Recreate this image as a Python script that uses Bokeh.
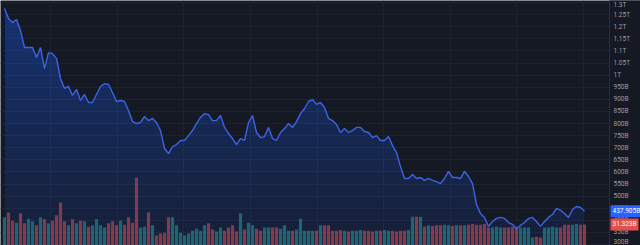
import numpy as np
from bokeh.plotting import figure
from bokeh.models import Range1d, FixedTicker, Grid, Label, ColumnDataSource, Span
from bokeh.embed import file_html
from bokeh.resources import INLINE

# ---- data (price in billions, volume in billions) ----
price = [
    1275, 1234, 1217, 1230, 1184, 1114, 1114, 1114, 1073, 1114,
    1027, 1093, 1089, 1069, 986, 945, 953, 916, 941, 895,
    920, 887, 887, 920, 953, 965, 961, 928, 891, 895,
    891, 854, 808, 800, 804, 829, 812, 821, 804, 771,
    697, 676, 705, 713, 730, 730, 750, 771, 800, 825,
    841, 837, 812, 812, 833, 784, 759, 738, 713, 738,
    730, 804, 833, 763, 742, 746, 784, 738, 730, 763,
    779, 800, 784, 808, 841, 862, 891, 899, 879, 887,
    866, 821, 812, 796, 763, 779, 763, 771, 784, 784,
    767, 763, 742, 750, 730, 730, 746, 709, 680, 622,
    573, 573, 589, 573, 577, 565, 573, 565, 560, 552,
    573, 602, 577, 577, 573, 602, 581, 552, 465, 428,
    412, 375, 395, 408, 412, 408, 391, 383, 366, 379,
    391, 408, 412, 395, 375, 395, 412, 424, 449, 441,
    428, 412, 445, 457, 453, 437.9,
]
volume = [
    42, 49, 37, 34, 48, 33, 40, 36, 30, 42,
    39, 33, 37, 45, 64, 36, 30, 39, 33, 37,
    36, 28, 30, 39, 30, 27, 33, 36, 30, 37,
    31, 42, 34, 101, 27, 28, 49, 30, 15, 18,
    19, 42, 42, 30, 19, 15, 18, 22, 25, 22,
    30, 33, 24, 21, 27, 22, 27, 30, 21, 48,
    24, 34, 30, 25, 22, 27, 27, 27, 27, 25,
    30, 22, 22, 24, 40, 22, 22, 22, 22, 30,
    30, 30, 22, 22, 23, 22, 21, 22, 22, 23,
    22, 22, 21, 22, 22, 23, 22, 22, 21, 22,
    22, 23, 43, 43, 43, 28, 30, 29, 30, 30,
    31, 30, 29, 30, 30, 30, 31, 32, 31, 31,
    32, 27, 27, 28, 27, 27, 27, 28, 27, 27,
    27, 27, 12, 13, 12, 27, 27, 28, 27, 27,
    31, 31, 31, 32, 31, 31.323,
]
tick_values = [300, 350, 400, 450, 500, 550, 600, 650, 700, 750, 800, 850,
               900, 950, 1000, 1050, 1100, 1150, 1200, 1250, 1300]
tick_labels = ["300B", "350B", "400B", "450B", "500B", "550B", "600B", "650B",
               "700B", "750B", "800B", "850B", "900B", "950B", "1T", "1.05T",
               "1.1T", "1.15T", "1.2T", "1.25T", "1.3T"]
last_price_label = "437.905B"
last_volume_label = "31.323B"

BG = "#151924"
UP = "#26a69a"
DOWN = "#ef5350"
LINE = "#3d63e6"
SCALE_EDGE = 151.25   # where the price scale starts (index units)

n = len(price)
idx = np.arange(n)
pr = np.array(price, dtype=float)
colors = [UP] + [UP if pr[i] >= pr[i - 1] else DOWN for i in range(1, n)]

p = figure(width=640, height=245, output_backend="svg", toolbar_location=None,
           x_range=Range1d(-1, 159), y_range=Range1d(296, 1308.3),
           y_axis_location="right", x_axis_location=None,
           background_fill_color=BG, border_fill_color=BG,
           min_border_left=0, min_border_top=0, min_border_bottom=0,
           min_border_right=0)
p.outline_line_color = None
p.extra_y_ranges = {"vol": Range1d(0, 365)}

# grids
for g in p.xgrid:
    g.visible = False
p.ygrid.grid_line_color = "#1e2230"
p.ygrid.ticker = FixedTicker(ticks=tick_values)
xgrid = Grid(dimension=0, ticker=FixedTicker(ticks=[11.5, 28.25, 44.75, 61.5, 78.25,
                                                      94.75, 111.5, 128, 144.75]),
             grid_line_color="#1e2230")
p.add_layout(xgrid)

# axis: labels drawn back over the right strip of the frame
ax = p.yaxis[0]
ax.ticker = FixedTicker(ticks=tick_values)
ax.major_label_overrides = {v: t for v, t in zip(tick_values, tick_labels)}
ax.major_tick_line_color = None
ax.minor_tick_line_color = None
ax.major_tick_out = 0
ax.major_tick_in = 0
ax.axis_line_color = None
ax.major_label_text_font_size = "6.5px"
ax.major_label_text_color = "#9a9da6"
ax.major_label_text_font = "Roboto"
ax.major_label_standoff = -27

# price-scale strip (covers grid), separator line
p.quad(left=SCALE_EDGE, right=200, bottom=0, top=2000, fill_color=BG, line_color=None)
p.add_layout(Span(location=SCALE_EDGE, dimension="height", line_color="#2a2e39",
                  line_width=1))

# volume bars
vsrc = ColumnDataSource(dict(x=idx, top=volume, color=colors))
p.vbar(x="x", top="top", bottom=0, width=0.8, color="color", alpha=0.55,
       line_color=None, y_range_name="vol", source=vsrc)

# gradient area fill (stacked translucent layers)
bottom = 296.0
p.varea(x=idx, y1=np.full(n, bottom), y2=pr, fill_color="#2962ff", fill_alpha=0.07)
for k in range(21):
    lev = bottom + k * 50
    p.varea(x=idx, y1=np.full(n, lev), y2=np.maximum(pr, lev),
            fill_color="#2962ff", fill_alpha=0.02)

p.line(idx, pr, line_color=LINE, line_width=1.4)

# last-value labels on the scale
p.add_layout(Label(x=610, x_units="screen", y=price[-1], text=last_price_label,
                   text_baseline="middle", text_font_size="6.5px", text_color="white",
                   text_font="Roboto", background_fill_color="#2962ff", padding=2))
p.add_layout(Label(x=610, x_units="screen", y=volume[-1], y_range_name="vol",
                   text=last_volume_label, text_baseline="middle",
                   text_font_size="6.5px", text_color="white", text_font="Roboto",
                   background_fill_color="#e0504d", padding=2))

open("out.html", "w").write(file_html(p, INLINE))
